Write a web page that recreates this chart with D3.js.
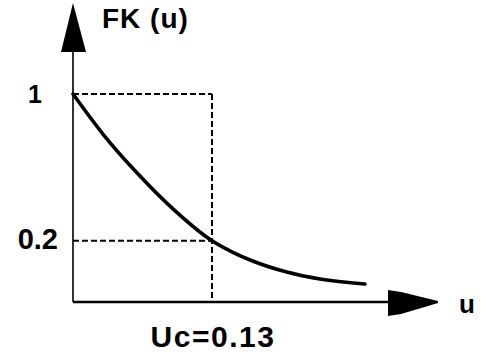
<!DOCTYPE html>
<html>
<head>
<meta charset="utf-8">
<script src="https://cdn.jsdelivr.net/npm/d3@7"></script>
<style>
  html, body { margin: 0; padding: 0; background: #fff; }
  svg { display: block; }
  text { font-family: "Liberation Sans", Arial, Helvetica, sans-serif; font-weight: bold; fill: #000; }
</style>
</head>
<body>
<svg id="chart" width="484" height="360"></svg>
<script>
// FK(u) decay curve
const uValues  = [0, 0.028, 0.060, 0.0935, 0.13, 0.149, 0.168, 0.200, 0.231, 0.273];
const fkValues = [1, 0.755, 0.533, 0.347, 0.2, 0.153, 0.118, 0.078, 0.055, 0.040];

// marked levels and the critical u
const yTickValues = [1, 0.2];
const yTickLabels = ["1", "0.2"];
const uc = 0.13;
const ucLabel = "Uc=0.13";
const yTitle = "FK (u)";
const xTitle = "u";

const svg = d3.select("#chart");

const x = d3.scaleLinear().domain([0, uc]).range([73, 212]);
const y = d3.scalePow().exponent(0.76).domain([0, 1]).range([302, 94]);

const x0 = x(0), yBase = y(0);

// dashed guide lines
const guides = svg.append("g")
  .attr("fill", "none").attr("stroke", "#000")
  .attr("stroke-width", 2).attr("stroke-dasharray", "6,3");
guides.append("line").attr("x1", x0).attr("x2", x(uc)).attr("y1", y(1)).attr("y2", y(1));
guides.append("line").attr("x1", x0).attr("x2", x(uc)).attr("y1", y(0.2)).attr("y2", y(0.2));
guides.append("line").attr("x1", x(uc)).attr("x2", x(uc)).attr("y1", y(1)).attr("y2", yBase);

// axes
svg.append("line").attr("x1", x0).attr("x2", x0).attr("y1", 48).attr("y2", yBase)
  .attr("stroke", "#000").attr("stroke-width", 1.6);
svg.append("line").attr("x1", x0).attr("x2", 392).attr("y1", yBase).attr("y2", yBase)
  .attr("stroke", "#000").attr("stroke-width", 2.6);

// arrowheads
svg.append("path")
  .attr("d", `M${x0},3 L${x0 + 13},52 L${x0 - 12},52 Z`)
  .attr("fill", "#000");
svg.append("path")
  .attr("d", `M388,290 L401,292 L438,${yBase - 1} L438,${yBase + 1} L401,314 L388,316 Z`)
  .attr("fill", "#000");

// curve
const pts = uValues.map((u, i) => [u, fkValues[i]]);
svg.append("path")
  .datum(pts)
  .attr("fill", "none").attr("stroke", "#000")
  .attr("stroke-width", 3.6).attr("stroke-linecap", "round")
  .attr("d", d3.line().x(d => x(d[0])).y(d => y(d[1])).curve(d3.curveMonotoneX));

// tick labels on the FK axis
svg.append("g").selectAll("text")
  .data(yTickValues)
  .join("text")
  .attr("x", (d, i) => i === 0 ? 42 : 58)
  .attr("y", d => y(d))
  .attr("dy", (d, i) => i === 0 ? "0.35em" : "0.3em")
  .attr("text-anchor", "end")
  .attr("font-size", (d, i) => i === 0 ? 25 : 29)
  .text((d, i) => yTickLabels[i]);

// titles
svg.append("text").attr("x", 102).attr("y", 28)
  .attr("font-size", 28).attr("letter-spacing", 1).text(yTitle);
svg.append("text").attr("x", 459).attr("y", 313)
  .attr("font-size", 26).text(xTitle);
svg.append("text").attr("x", x(uc) + 1).attr("y", 347)
  .attr("text-anchor", "middle")
  .attr("font-size", 30).attr("letter-spacing", 1.5).text(ucLabel);
</script>
</body>
</html>
